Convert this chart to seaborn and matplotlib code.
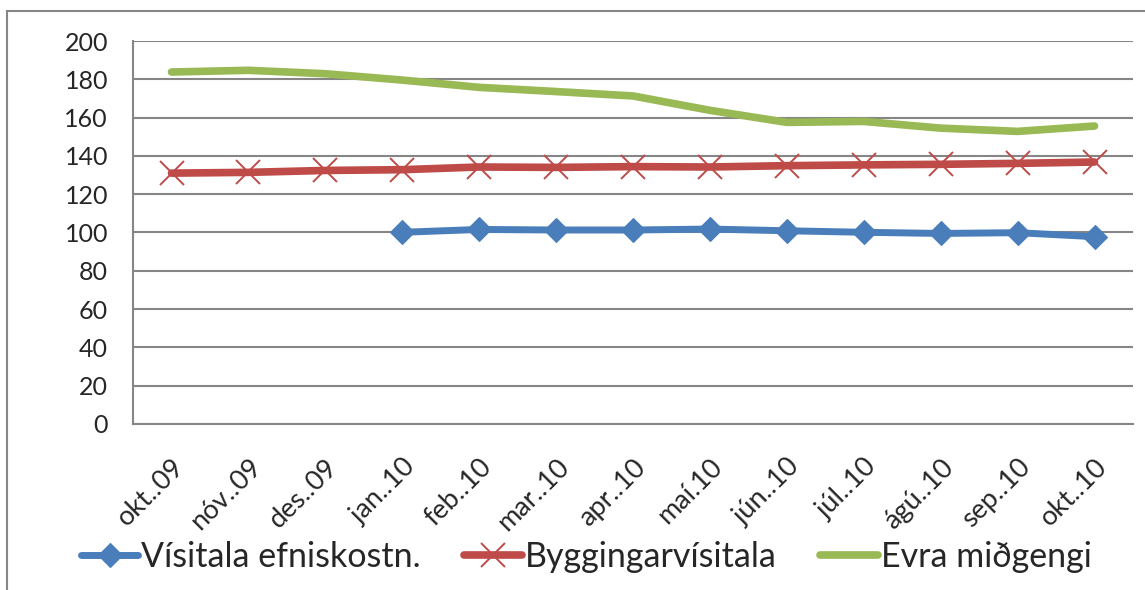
import numpy as np
import pandas as pd
import matplotlib
matplotlib.use('Agg')
from matplotlib import pyplot as plt
from matplotlib.patches import Rectangle
import seaborn as sns

# months on the x axis
months = ['okt..09', 'nóv..09', 'des..09', 'jan..10', 'feb..10', 'mar..10', 'apr..10',
          'maí.10', 'jún..10', 'júl..10', 'ágú..10', 'sep..10', 'okt..10']

# values (blue series starts in jan..10)
visitala_efnis = [np.nan, np.nan, np.nan, 100.1, 101.6, 101.3, 101.3, 101.8, 100.9, 100.1, 99.5, 99.9, 97.8]
byggingarvisitala = [131.0, 131.4, 132.4, 132.8, 134.2, 134.0, 134.4, 134.2, 134.9, 135.3, 135.6, 136.1, 136.8]
evra_midgengi = [183.8, 184.7, 182.9, 179.6, 175.8, 173.6, 171.3, 163.8, 157.5, 158.0, 154.5, 152.8, 155.6]

names = ['Vísitala efniskostn.', 'Byggingarvísitala', 'Evra miðgengi']
colors = ['#4A7EBB', '#BE4B48', '#98B954']

df = pd.DataFrame({'pos': np.arange(len(months)), 'month': months,
                   names[0]: visitala_efnis, names[1]: byggingarvisitala, names[2]: evra_midgengi})

sns.set_style('white')
plt.rcParams['font.family'] = ['Lato', 'DejaVu Sans']

fig = plt.figure(figsize=(11.45, 5.9), dpi=100)
ax = fig.add_axes([0.1162, 0.2814, 0.8733, 0.6491])

# Blue line with diamonds
sns.lineplot(x='pos', y=names[0], data=df.dropna(subset=[names[0]]), ax=ax, color=colors[0],
             linewidth=5, marker='D', markersize=12, markeredgewidth=0.8,
             markeredgecolor=colors[0], solid_capstyle='round', label=names[0])
# Red line with x markers
sns.lineplot(x='pos', y=names[1], data=df, ax=ax, color=colors[1],
             linewidth=5.5, marker='x', markersize=17, markeredgewidth=1.4,
             markeredgecolor=colors[1], solid_capstyle='round', label=names[1])
# Green line, no markers
sns.lineplot(x='pos', y=names[2], data=df, ax=ax, color=colors[2],
             linewidth=5.5, solid_capstyle='round', label=names[2])

ax.set_xlim(-0.5, len(months) - 0.5)
ax.set_ylim(0, 200)
ax.set_yticks(range(0, 201, 20))
ax.set_xticks(df['pos'])
ax.set_xticklabels(months, rotation=45, ha='right', rotation_mode='anchor', fontsize=19.5)
ax.set_xticks(np.arange(-0.5, len(months)), minor=True)
ax.tick_params(axis='x', which='major', length=0, pad=22)
ax.tick_params(axis='x', which='minor', length=7, width=1.5, color='#868686', direction='out')
ax.tick_params(axis='y', length=7, width=1.5, color='#868686', direction='out', labelsize=18, pad=11)
ax.set_xlabel('')
ax.set_ylabel('')

ax.grid(axis='y', color='#868686', linewidth=1.5)
ax.set_axisbelow(True)
for s in ['top', 'right']:
    ax.spines[s].set_visible(False)
for s in ['left', 'bottom']:
    ax.spines[s].set_color('#868686')
    ax.spines[s].set_linewidth(1.5)

# legend at the bottom
ax.legend(loc='center', bbox_to_anchor=(0.453, -0.347), ncol=3,
          frameon=False, fontsize=24.5, handlelength=1.7, handletextpad=0.09, columnspacing=1.26)

# outer chart border
fig.patches.append(Rectangle((7 / 1145, -0.1), 1.2, 1.1 - 11 / 590, transform=fig.transFigure,
                             fill=False, edgecolor='#868686', linewidth=1.5))

fig.savefig('out.png', dpi=100)
